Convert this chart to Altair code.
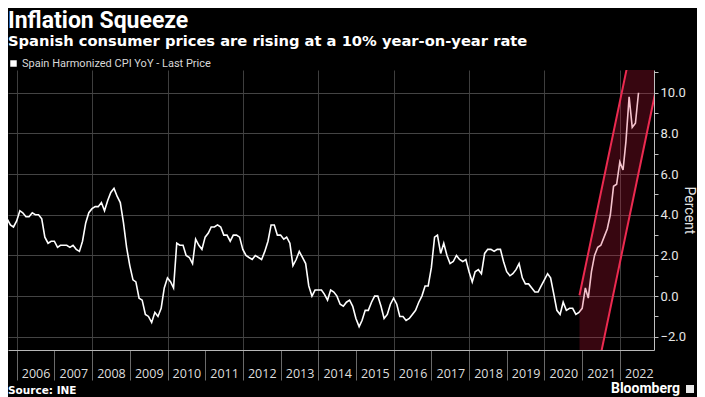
import altair as alt
import pandas as pd

# Spain Harmonized CPI YoY (%), monthly
cpi_2005 = [3.3, 3.3, 3.8, 3.5, 3.4, 3.7]  # Jul-Dec
cpi_2006 = [4.2, 4.1, 3.9, 3.9, 4.1, 4.0, 4.0, 3.8, 2.9, 2.6, 2.7, 2.7]
cpi_2007 = [2.4, 2.5, 2.5, 2.5, 2.4, 2.5, 2.3, 2.2, 2.7, 3.6, 4.1, 4.3]
cpi_2008 = [4.4, 4.4, 4.6, 4.2, 4.7, 5.1, 5.3, 4.9, 4.6, 3.6, 2.4, 1.5]
cpi_2009 = [0.8, 0.7, -0.1, -0.2, -0.9, -1.0, -1.3, -0.8, -1.0, -0.6, 0.4, 0.9]
cpi_2010 = [0.7, 0.4, 2.6, 2.5, 2.5, 2.0, 1.9, 1.6, 2.8, 2.5, 2.3, 2.9]
cpi_2011 = [3.1, 3.4, 3.4, 3.5, 3.4, 3.0, 3.0, 2.7, 3.0, 3.0, 2.9, 2.3]
cpi_2012 = [2.0, 1.9, 1.8, 2.0, 1.9, 1.8, 2.2, 2.7, 3.5, 3.5, 3.0, 3.0]
cpi_2013 = [2.8, 2.9, 2.6, 1.5, 1.8, 2.2, 1.9, 1.6, 0.5, 0.0, 0.3, 0.3]
cpi_2014 = [0.3, 0.1, -0.2, 0.3, 0.2, 0.0, -0.4, -0.5, -0.3, -0.2, -0.5, -1.1]
cpi_2015 = [-1.5, -1.2, -0.7, -0.7, -0.3, 0.0, 0.0, -0.5, -1.1, -0.9, -0.4, -0.1]
cpi_2016 = [-0.4, -1.0, -1.0, -1.2, -1.1, -0.9, -0.7, -0.3, 0.0, 0.5, 0.5, 1.4]
cpi_2017 = [2.9, 3.0, 2.1, 2.6, 2.0, 1.6, 1.7, 2.0, 1.8, 1.7, 1.8, 1.2]
cpi_2018 = [0.7, 1.2, 1.3, 1.1, 2.1, 2.3, 2.3, 2.2, 2.3, 2.3, 1.7, 1.2]
cpi_2019 = [1.0, 1.1, 1.3, 1.6, 0.9, 0.6, 0.6, 0.4, 0.2, 0.2, 0.5, 0.8]
cpi_2020 = [1.1, 0.9, 0.1, -0.7, -0.9, -0.3, -0.7, -0.6, -0.6, -0.9, -0.8, -0.6]
cpi_2021 = [0.4, -0.1, 1.2, 2.0, 2.4, 2.5, 2.9, 3.3, 4.0, 5.4, 5.5, 6.6]
cpi_2022 = [6.2, 7.6, 9.8, 8.3, 8.5, 10.0]  # Jan-Jun

series_name = "Spain Harmonized CPI YoY - Last Price"
first_month = "2005-07"

# Highlight band (parallel red trend channel)
band_dates = ["2020-12-05", "2023-03-01"]
band_upper = [0.04, 19.9]
band_lower = [-7.9, 12.0]

year_ticks = list(range(2006, 2023))
y_ticks = list(range(-2, 12))

title_text = "Inflation Squeeze"
subtitle_text = "Spanish consumer prices are rising at a 10% year-on-year rate"
source_text = "Source: INE"
brand_text = "Bloomberg"
y_title = "Percent"

# ---------------------------------------------------------------
values = (cpi_2005 + cpi_2006 + cpi_2007 + cpi_2008 + cpi_2009 + cpi_2010 +
          cpi_2011 + cpi_2012 + cpi_2013 + cpi_2014 + cpi_2015 + cpi_2016 +
          cpi_2017 + cpi_2018 + cpi_2019 + cpi_2020 + cpi_2021 + cpi_2022)
dates = (pd.period_range(first_month, periods=len(values), freq="M")
         .to_timestamp(how="start") + pd.offsets.MonthEnd(0))
df = pd.DataFrame({"date": dates, "value": values, "series": series_name})

band_df = pd.DataFrame({"date": pd.to_datetime(band_dates),
                        "upper": band_upper, "lower": band_lower})
edges_df = pd.DataFrame({
    "date": pd.to_datetime(band_dates + band_dates),
    "value": band_upper + band_lower,
    "edge": ["upper"] * len(band_dates) + ["lower"] * len(band_dates),
})
note_df = pd.DataFrame({"source": [source_text], "brand": [brand_text]})

W, H = 646, 280

xscale = alt.Scale(domain=[alt.DateTime(year=2005, month=10, date=8),
                           alt.DateTime(year=2022, month=11, date=27)], nice=False)
yscale = alt.Scale(domain=[-2.65, 11.12], nice=False, zero=False)

even_year = {"condition": {"test": "year(datum.value) % 2 === 0", "value": 1}, "value": 0}
even_val = {"condition": {"test": "datum.value % 2 === 0", "value": 1}, "value": 0}

x_axis = alt.Axis(
    values=[alt.DateTime(year=y, month=1, date=1) for y in year_ticks],
    format="%Y", title=None,
    labelAlign="center", labelOffset=18.85, labelPadding=-13, labelBaseline="top",
    labelFont="Open Sans", labelFontSize=12.5, labelColor="#dedede",
    labelOverlap=False, labelFlush=False, labelBound=False,
    tickSize=30, tickColor="#6a6a6a", tickWidth=1,
    domainColor="#b8b8b8", domainWidth=1,
    grid=True, gridColor="#3e3e3e", gridWidth=1, gridOpacity=even_year,
)
y_axis = alt.Axis(
    orient="right", values=y_ticks,
    labelExpr="datum.value % 2 === 0 ? format(datum.value, '.1f') : ''",
    labelFont="Roboto", labelFontSize=13, labelColor="#e6e6e6", labelPadding=2,
    tickSize=4, tickColor="#c0c0c0", domainColor="#c0c0c0",
    grid=True, gridColor="#444444", gridWidth=1, gridOpacity=even_val,
    title=y_title, titleFont="Roboto", titleFontSize=14, titleFontWeight="normal",
    titleColor="#e6e6e6", titleAngle=90, titleAlign="center", titleBaseline="middle",
    titleX=34, titleY=140,
)

line = alt.Chart(df).mark_line(strokeWidth=1.6, clip=True).encode(
    x=alt.X("date:T", scale=xscale, axis=x_axis),
    y=alt.Y("value:Q", scale=yscale, axis=y_axis),
    color=alt.Color("series:N", scale=alt.Scale(range=["#ffffff"]),
                    legend=alt.Legend(orient="none", legendX=0, legendY=-12,
                                      title=None, symbolType="square", symbolSize=42,
                                      symbolFillColor="#ffffff", symbolStrokeWidth=0,
                                      labelFont="Roboto", labelFontSize=11,
                                      labelColor="#d8d8d8", padding=0, symbolOffset=0,
                                      labelOffset=3, labelLimit=400)),
)

band = alt.Chart(band_df).mark_area(clip=True, color="#d4163c", opacity=0.26).encode(
    x=alt.X("date:T", scale=xscale, axis=x_axis),
    y=alt.Y("upper:Q", scale=yscale, axis=y_axis),
    y2="lower:Q",
)

edges = alt.Chart(edges_df).mark_line(clip=True, color="#ec2a50", strokeWidth=2).encode(
    x=alt.X("date:T", scale=xscale, axis=x_axis),
    y=alt.Y("value:Q", scale=yscale, axis=y_axis),
    detail="edge:N",
)

source = alt.Chart(note_df).mark_text(
    align="left", baseline="middle", font="DejaVu Sans", fontWeight="bold",
    fontSize=10.5, color="#ffffff",
).encode(x=alt.value(0), y=alt.value(H + 41), text="source:N")

brand = alt.Chart(note_df).mark_text(
    align="right", baseline="middle", font="Roboto", fontWeight="bold",
    fontSize=14, color="#ffffff",
).encode(x=alt.value(672), y=alt.value(H + 39), text="brand:N")

icon = alt.Chart(note_df).mark_square(size=64, color="#e8e8e8", opacity=1).encode(
    x=alt.value(682), y=alt.value(H + 39),
)

chart = alt.layer(line, band, edges, source, brand, icon).properties(
    width=W, height=H,
    autosize=alt.AutoSizeParams(type="none"),
    padding={"left": 0, "top": 62, "right": 43, "bottom": 47},
    background="#000000",
    title=alt.TitleParams(
        text=title_text, subtitle=subtitle_text, anchor="start",
        font="Roboto", fontSize=23, fontWeight="bold", color="#ffffff",
        subtitleFont="DejaVu Sans", subtitleFontSize=14.7, subtitleFontWeight="bold",
        subtitleColor="#ffffff", subtitlePadding=1, offset=9,
    ),
).configure_view(stroke=None)

chart.save("out.html", embed_options={"renderer": "svg", "actions": False})
